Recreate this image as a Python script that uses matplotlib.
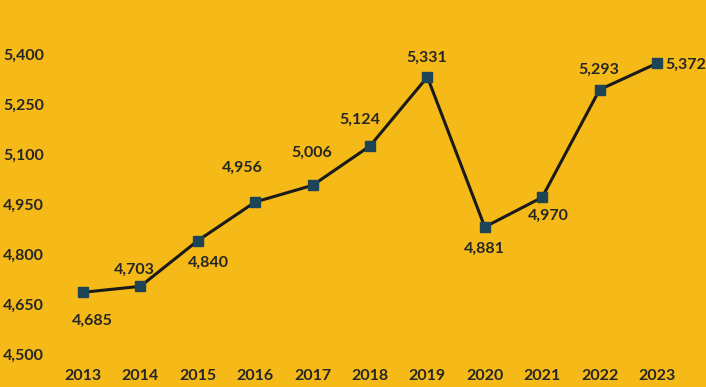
import matplotlib
matplotlib.use("Agg")
import matplotlib.pyplot as plt

years = ["2013", "2014", "2015", "2016", "2017", "2018", "2019", "2020", "2021", "2022", "2023"]
values = [4685, 4703, 4840, 4956, 5006, 5124, 5331, 4881, 4970, 5293, 5372]
y_ticks = [4500, 4650, 4800, 4950, 5100, 5250, 5400]
# label offsets from each point, pixels (dx, dy)
label_off = [(9, -28), (-6, 17), (11, -22), (-13, 34), (-1, 33), (-10, 26),
             (-1, 19), (0, -22), (6, -18), (-1, 20), (29, -1)]

bg = "#F5BA18"
txt = "#262626"
plt.rcParams['font.family'] = ['Lato', 'DejaVu Sans']

fig = plt.figure(figsize=(7.06, 3.87), dpi=100, facecolor=bg)
ax = fig.add_axes([0.0769, 0.0853, 0.8943, 0.7752])
ax.set_facecolor(bg)

x = range(len(years))
ax.plot(x, values, color="#1a1a1a", lw=2.2, zorder=2)
ax.plot(x, values, ls="none", marker="s", ms=6.5, color="#1E4556", zorder=3)

for i, v in enumerate(values):
    dx, dy = label_off[i]
    ax.annotate(f"{v:,}", (i, v), xytext=(dx, dy), textcoords="offset pixels",
                ha="center", va="center", fontsize=11.5, fontweight="bold", color=txt)

ax.set_xlim(-0.5, 10.5)
ax.set_ylim(4500, 5400)
ax.set_xticks(list(x))
ax.set_xticklabels(years)
ax.set_yticks(y_ticks)
ax.set_yticklabels([f"{t:,}" for t in y_ticks])
ax.tick_params(length=0, labelsize=11.5, colors=txt)
ax.tick_params(axis="x", pad=11)
ax.tick_params(axis="y", pad=7.5)
for lab in ax.get_xticklabels() + ax.get_yticklabels():
    lab.set_fontweight("bold")
for s in ax.spines.values():
    s.set_visible(False)

fig.savefig("out.png", dpi=100, facecolor=bg)
